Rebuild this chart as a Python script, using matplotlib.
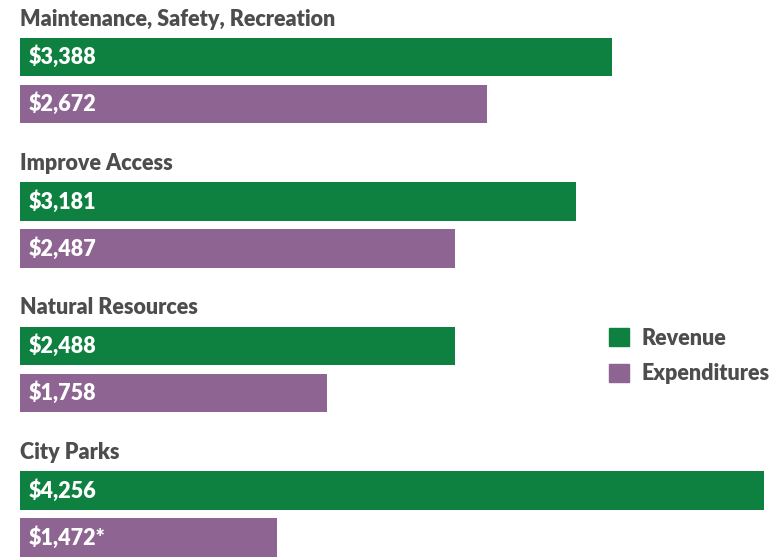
import matplotlib.pyplot as plt
from matplotlib.patches import Patch

categories = ["Maintenance, Safety, Recreation", "Improve Access", "Natural Resources", "City Parks"]
revenue = [3388, 3181, 2488, 4256]
expenditures = [2672, 2487, 1758, 1472]
exp_labels = ["$2,672", "$2,487", "$1,758", "$1,472*"]
rev_labels = ["${:,}".format(v) for v in revenue]

green = "#0e8040"
purple = "#8e6592"
gray = "#4d4d4d"

plt.rcParams['font.family'] = ['Lato', 'DejaVu Sans']

fig = plt.figure(figsize=(7.74, 5.58), dpi=100)
ax = fig.add_axes([0, 0, 1, 1])

scale = 0.17475
ax.set_xlim(-20 / scale, (774 - 20) / scale)
ax.set_ylim(558, 0)
ax.axis("off")

step, h, off = 144.5, 38.5, 47
for i, cat in enumerate(categories):
    yc = 57 + i * step
    ax.barh(yc, revenue[i], height=h, color=green, left=0)
    ax.barh(yc + off, expenditures[i], height=h, color=purple, left=0)
    ax.text(0, yc - 38, cat, fontsize=15.5, fontweight=800, color=gray, va="center", ha="left")
    ax.text(50, yc, rev_labels[i], fontsize=15.5, fontweight=800, color="white", va="center")
    ax.text(50, yc + off, exp_labels[i], fontsize=15.5, fontweight=800, color="white", va="center")

handles = [Patch(color=green, label="Revenue"), Patch(color=purple, label="Expenditures")]
leg = ax.legend(handles=handles, loc="upper left", bbox_to_anchor=(600 / 774, 1 - 319 / 558),
                frameon=False, prop={"size": 15.5, "weight": 800}, handlelength=0.95,
                handleheight=0.95, handletextpad=0.6, labelspacing=0.68, borderaxespad=0)
for t in leg.get_texts():
    t.set_color(gray)

fig.savefig("out.png", dpi=100)
